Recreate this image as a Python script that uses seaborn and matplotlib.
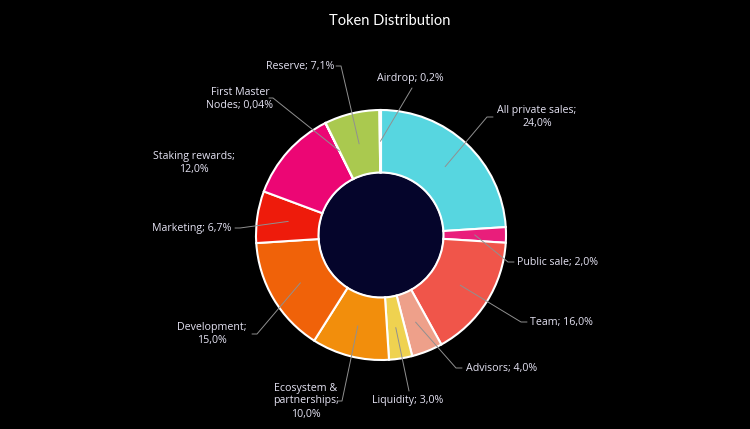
import numpy as np
import seaborn as sns
import matplotlib.pyplot as plt
from matplotlib.patches import Circle

# data
labels = ['All private sales;\n24,0%', 'Public sale; 2,0%', 'Team; 16,0%', 'Advisors; 4,0%',
          'Liquidity; 3,0%', 'Ecosystem &\npartnerships;\n10,0%', 'Development;\n15,0%',
          'Marketing; 6,7%', 'Staking rewards;\n12,0%', 'First Master\nNodes; 0,04%',
          'Reserve; 7,1%', 'Airdrop; 0,2%']
shares = [24.0, 2.0, 16.0, 4.0, 3.0, 10.0, 15.0, 6.7, 12.0, 0.04, 7.1, 0.2]
colors = ['#57d6e0', '#e91e7b', '#f0554a', '#eea08a', '#efd250', '#f28e0c',
          '#f06209', '#ee1b0b', '#ec0674', '#c8c8c8', '#aac94f', '#f4f4dc']

# label layout in pixels: text x, text y, alignment, leader join point (None = no line), tick direction
label_pos = [(537, 117, 'center', (487, 117), 6), (517, 262, 'left', (508, 262), 6),
             (530, 322, 'left', (521, 322), 6), (466, 368, 'left', (456, 368), 6),
             (372, 400, 'left', (409, 391), 0), (306, 401, 'center', (342, 401), -5),
             (212, 334, 'center', (257, 334), -5), (231, 228, 'right', (240, 228), -5),
             (194, 163, 'center', None, 0), (240, 99, 'center', (273, 98), -4),
             (334, 67, 'right', (341, 66), -5), (410, 79, 'center', (412, 88), 0)]

sns.set_theme(style='dark', rc={'figure.facecolor': 'black', 'axes.facecolor': 'black'})
plt.rcParams['font.family'] = ['Open Sans', 'DejaVu Sans']

W, H, cx, cy, R = 750, 429, 381, 235, 125.0
fig = plt.figure(figsize=(7.5, 4.29), dpi=100)
ax = fig.add_axes([0, 0, 1, 1])
ax.set_aspect('equal')
ax.axis('off')

def px(x, y):
    return (x - cx) / R, (cy - y) / R

ax.add_patch(Circle((0, 0), 0.5, facecolor='#05052b', zorder=0))
ax.pie(shares, colors=sns.color_palette(colors), startangle=90, counterclock=False,
       radius=1.0, wedgeprops=dict(width=0.5, edgecolor='white', linewidth=1.5))
ax.set_xlim(-cx / R, (W - cx) / R)
ax.set_ylim(-(H - cy) / R, cy / R)

total = sum(shares)
cum = np.cumsum([0] + shares[:-1])
txt_color = '#e4e2f2'
for lab, v, c0, (tx, ty, ha, join, tick) in zip(labels, shares, cum, label_pos):
    theta = np.deg2rad(90 - 360 * (c0 + v / 2) / total)
    if join is not None:
        ax0, ay0 = 0.75 * np.cos(theta), 0.75 * np.sin(theta)
        jx, jy = px(*join)
        ex, ey = px(join[0] + tick, join[1])
        ax.plot([ax0, jx, ex], [ay0, jy, ey], color='#909090', lw=0.7, zorder=5)
    x, y = px(tx, ty)
    ax.text(x, y, lab, color=txt_color, fontsize=7.7, ha=ha, va='center',
            multialignment='center', linespacing=1.25)

ax.text(*px(390, 21), 'Token Distribution', color='white', fontsize=10.5,
        family=['Lato', 'DejaVu Sans'], ha='center', va='center')

fig.savefig('out.png', dpi=100, facecolor='black')
